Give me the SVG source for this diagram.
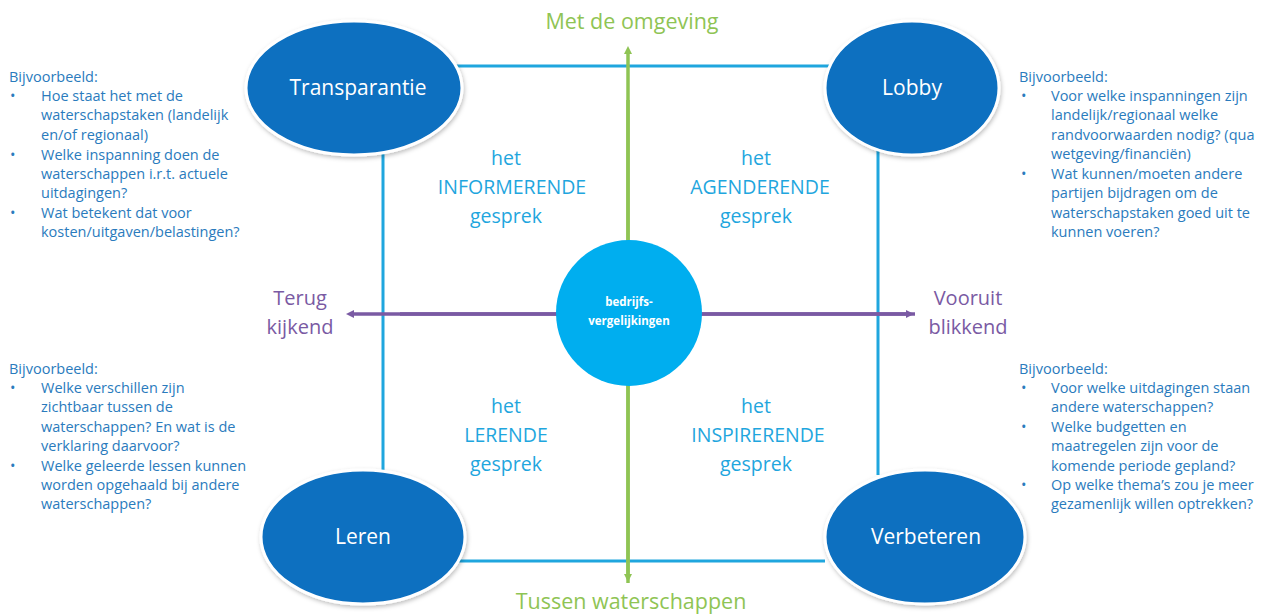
<svg xmlns="http://www.w3.org/2000/svg" width="1263" height="614" viewBox="0 0 1263 614">
<defs>
<style>
.frame{stroke:#1fa6de;stroke-width:3;fill:none}
.big{fill:#0b6fc0;stroke:#ffffff;stroke-width:3;filter:url(#sh)}
.lbl{font-family:"Open Sans","Liberation Sans",sans-serif;font-size:21px;fill:#ffffff;text-anchor:middle}
.conv{font-family:"Open Sans","Liberation Sans",sans-serif;font-size:19.5px;fill:#1fa6de;text-anchor:middle}
.axis-g{font-family:"Open Sans","Liberation Sans",sans-serif;font-size:21.5px;fill:#8fc454;text-anchor:middle}
.axis-p{font-family:"Open Sans","Liberation Sans",sans-serif;font-size:20px;fill:#7a5aa3;text-anchor:middle}
.ex{font-family:"Open Sans","Liberation Sans",sans-serif;font-size:14.5px;fill:#2a7bbd}
</style>
<filter id="sh" x="-10%" y="-10%" width="125%" height="130%">
<feDropShadow dx="1" dy="2" stdDeviation="2" flood-color="#000000" flood-opacity="0.25"/>
</filter>
<marker id="ag" markerWidth="8" markerHeight="8" refX="4" refY="4" orient="auto" markerUnits="userSpaceOnUse" viewBox="0 0 8 8">
<path d="M0,0 L8,4 L0,8 z" fill="#8fc454"/>
</marker>
<marker id="ap" markerWidth="8" markerHeight="8" refX="4" refY="4" orient="auto" markerUnits="userSpaceOnUse" viewBox="0 0 8 8">
<path d="M0,0 L8,4 L0,8 z" fill="#7a5aa3"/>
</marker>
</defs>
<rect width="1263" height="614" fill="#ffffff"/>
<g id="connectors">
<path class="frame" d="M430,66 H840"/>
<path class="frame" d="M440,561 H825"/>
<path class="frame" d="M383,150 V475"/>
<path class="frame" d="M878,150 V475"/>
<path d="M628,583 V50" stroke="#8fc454" stroke-width="3.5" fill="none" marker-end="url(#ag)"/>
<path d="M628,100 V578" stroke="#8fc454" stroke-width="3.5" fill="none" marker-end="url(#ag)"/>
<path d="M915,314 H350" stroke="#7a5aa3" stroke-width="3.5" fill="none" marker-end="url(#ap)"/>
<path d="M400,314 H910" stroke="#7a5aa3" stroke-width="3.5" fill="none" marker-end="url(#ap)"/>
</g>
<g id="node-center">
<circle cx="629" cy="313" r="73" fill="#00aeef"/>
<text x="629" y="306" font-family="'Open Sans','Liberation Sans',sans-serif" font-size="11.5" font-weight="bold" fill="#ffffff" text-anchor="middle">bedrijfs-</text>
<text x="629" y="325" font-family="'Open Sans','Liberation Sans',sans-serif" font-size="11.5" font-weight="bold" fill="#ffffff" text-anchor="middle">vergelijkingen</text>
</g>
<g id="node-transparantie">
<ellipse class="big" cx="354" cy="88" rx="108" ry="67"/>
<text class="lbl" x="358" y="95">Transparantie</text>
</g>
<g id="node-lobby">
<ellipse class="big" cx="912" cy="88" rx="87" ry="67"/>
<text class="lbl" x="912" y="95">Lobby</text>
</g>
<g id="node-leren">
<ellipse class="big" cx="363" cy="537" rx="102" ry="67"/>
<text class="lbl" x="363" y="544">Leren</text>
</g>
<g id="node-verbeteren">
<ellipse class="big" cx="925" cy="537" rx="100" ry="67"/>
<text class="lbl" x="926" y="544">Verbeteren</text>
</g>
<g id="conv-informerend">
<text class="conv" x="506" y="165">het</text>
<text class="conv" x="512" y="194">INFORMERENDE</text>
<text class="conv" x="506" y="223">gesprek</text>
</g>
<g id="conv-agenderend">
<text class="conv" x="756" y="165">het</text>
<text class="conv" x="760" y="194">AGENDERENDE</text>
<text class="conv" x="756" y="223">gesprek</text>
</g>
<g id="conv-lerend">
<text class="conv" x="506" y="413">het</text>
<text class="conv" x="506" y="442">LERENDE</text>
<text class="conv" x="506" y="471">gesprek</text>
</g>
<g id="conv-inspirerend">
<text class="conv" x="756" y="413">het</text>
<text class="conv" x="758" y="442">INSPIRERENDE</text>
<text class="conv" x="756" y="471">gesprek</text>
</g>
<g id="axis-labels">
<text class="axis-g" x="632" y="29">Met de omgeving</text>
<text class="axis-g" x="631" y="609">Tussen waterschappen</text>
<text class="axis-p" x="300" y="305">Terug</text>
<text class="axis-p" x="300" y="334">kijkend</text>
<text class="axis-p" x="968" y="305">Vooruit</text>
<text class="axis-p" x="968" y="334">blikkend</text>
</g>
<g id="example-tl" class="ex">
<text x="9" y="82">Bijvoorbeeld:</text>
<text x="10" y="101">•</text><text x="41" y="101">Hoe staat het met de</text>
<text x="41" y="120">waterschapstaken (landelijk</text>
<text x="41" y="140">en/of regionaal)</text>
<text x="10" y="160">•</text><text x="41" y="160">Welke inspanning doen de</text>
<text x="41" y="179">waterschappen i.r.t. actuele</text>
<text x="41" y="198">uitdagingen?</text>
<text x="10" y="218">•</text><text x="41" y="218">Wat betekent dat voor</text>
<text x="41" y="237">kosten/uitgaven/belastingen?</text>
</g>
<g id="example-tr" class="ex">
<text x="1019" y="82">Bijvoorbeeld:</text>
<text x="1021" y="101">•</text><text x="1051" y="101">Voor welke inspanningen zijn</text>
<text x="1051" y="120">landelijk/regionaal welke</text>
<text x="1051" y="140">randvoorwaarden nodig? (qua</text>
<text x="1051" y="159">wetgeving/financiën)</text>
<text x="1021" y="179">•</text><text x="1051" y="179">Wat kunnen/moeten andere</text>
<text x="1051" y="198">partijen bijdragen om de</text>
<text x="1051" y="218">waterschapstaken goed uit te</text>
<text x="1051" y="237">kunnen voeren?</text>
</g>
<g id="example-bl" class="ex">
<text x="9" y="374">Bijvoorbeeld:</text>
<text x="10" y="393">•</text><text x="41" y="393">Welke verschillen zijn</text>
<text x="41" y="412">zichtbaar tussen de</text>
<text x="41" y="432">waterschappen? En wat is de</text>
<text x="41" y="451">verklaring daarvoor?</text>
<text x="10" y="471">•</text><text x="41" y="471">Welke geleerde lessen kunnen</text>
<text x="41" y="490">worden opgehaald bij andere</text>
<text x="41" y="509">waterschappen?</text>
</g>
<g id="example-br" class="ex">
<text x="1019" y="374">Bijvoorbeeld:</text>
<text x="1021" y="393">•</text><text x="1051" y="393">Voor welke uitdagingen staan</text>
<text x="1051" y="412">andere waterschappen?</text>
<text x="1021" y="432">•</text><text x="1051" y="432">Welke budgetten en</text>
<text x="1051" y="451">maatregelen zijn voor de</text>
<text x="1051" y="471">komende periode gepland?</text>
<text x="1021" y="490">•</text><text x="1051" y="490">Op welke thema’s zou je meer</text>
<text x="1051" y="509">gezamenlijk willen optrekken?</text>
</g>
</svg>
